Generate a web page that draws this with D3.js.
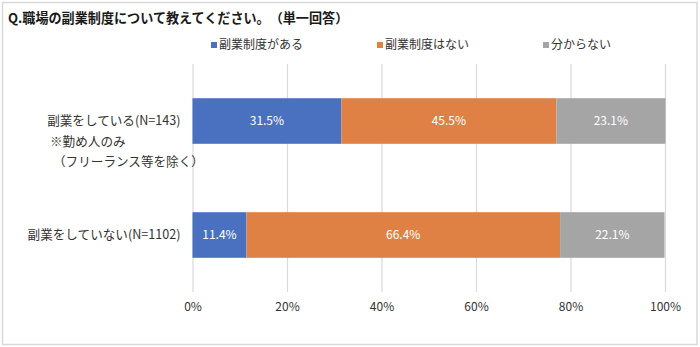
<!DOCTYPE html>
<html lang="ja">
<head>
<meta charset="utf-8">
<script src="https://cdn.jsdelivr.net/npm/d3@7"></script>
<style>
  html, body { margin: 0; padding: 0; background: #fff; }
  svg { display: block; font-family: "Noto Sans CJK JP", "Noto Sans", sans-serif; text-spacing-trim: space-all; }
</style>
</head>
<body>
<svg id="chart" width="700" height="347"></svg>
<script>
// Survey question and answer groups
const title = "Q.職場の副業制度について教えてください。（単一回答）";
const categories = ["副業をしている(N=143)", "副業をしていない(N=1102)"];
const categoryNotes = [["※勤め人のみ", "（フリーランス等を除く）"], []];
const seriesNames = ["副業制度がある", "副業制度はない", "分からない"];
const seriesColors = ["#4a71c0", "#df8144", "#a5a5a5"];
// Shares (%) per group, in series order
const hasSystem = [31.5, 11.4];
const noSystem = [45.5, 66.4];
const dontKnow = [23.1, 22.1];
const tickValues = [0, 20, 40, 60, 80, 100];

const svg = d3.select("#chart");
const W = 700, H = 347;
const margin = { left: 192.5, right: 35, top: 64, bottom: 55 };

// Outer frame
svg.append("rect")
  .attr("x", 2.5).attr("y", 2.5)
  .attr("width", W - 5.5).attr("height", H - 5)
  .attr("fill", "#fff").attr("stroke", "#d9d9d9").attr("stroke-width", 1.5);

svg.append("text")
  .attr("x", 8).attr("y", 23)
  .attr("font-size", 13.1).attr("font-weight", "bold").attr("fill", "#1a1a1a")
  .text(title);

const x = d3.scaleLinear().domain([0, 100]).range([margin.left, W - margin.right]);
const y = d3.scaleBand().domain(categories)
  .range([margin.top, H - margin.bottom]).paddingInner(0.6).paddingOuter(0.3);

// Vertical gridlines with tick labels below
const axis = d3.axisBottom(x).tickValues(tickValues).tickFormat(d => d + "%")
  .tickSize(-(H - margin.bottom - margin.top)).tickPadding(10);
const gAxis = svg.append("g")
  .attr("transform", `translate(0,${H - margin.bottom})`)
  .call(axis);
gAxis.select(".domain").remove();
gAxis.selectAll(".tick line").attr("stroke", "#d9d9d9").attr("stroke-width", 1.2);
gAxis.selectAll(".tick text")
  .attr("font-size", 12).attr("fill", "#333")
  .attr("font-family", "'Noto Sans CJK JP', sans-serif");

// Stack the three series
const rows = categories.map((c, i) => ({
  cat: c, s0: hasSystem[i], s1: noSystem[i], s2: dontKnow[i]
}));
const stack = d3.stack().keys(["s0", "s1", "s2"]);
const layers = stack(rows);

const gLayers = svg.append("g").selectAll("g").data(layers).join("g")
  .attr("fill", (d, i) => seriesColors[i]);

gLayers.selectAll("rect").data(d => d).join("rect")
  .attr("x", d => x(d[0]))
  .attr("width", d => x(d[1]) - x(d[0]))
  .attr("y", d => y(d.data.cat))
  .attr("height", y.bandwidth());

gLayers.selectAll("text").data(d => d).join("text")
  .attr("x", d => (x(d[0]) + x(d[1])) / 2)
  .attr("y", d => y(d.data.cat) + y.bandwidth() / 2)
  .attr("dy", "0.35em")
  .attr("text-anchor", "middle")
  .attr("font-size", 12).attr("fill", "#fff")
  .text(d => (d[1] - d[0]).toFixed(1) + "%");

// Category labels
categories.forEach((c, i) => {
  const cy = y(c) + y.bandwidth() / 2;
  svg.append("text")
    .attr("x", margin.left - 12).attr("y", cy).attr("dy", "0.35em")
    .attr("text-anchor", "end").attr("font-size", 12.6).attr("fill", "#333")
    .text(c);
  categoryNotes[i].forEach((line, j) => {
    svg.append("text")
      .attr("x", 50 + j * 3).attr("y", cy + 20.5 * (j + 1)).attr("dy", "0.35em")
      .attr("font-size", 12.6).attr("fill", "#333")
      .text(line);
  });
});

// Legend
const legendX = [211, 377, 543];
const legend = svg.append("g").selectAll("g").data(seriesNames).join("g")
  .attr("transform", (d, i) => `translate(${legendX[i]},45)`);
legend.append("rect")
  .attr("x", 0).attr("y", -3).attr("width", 6).attr("height", 6)
  .attr("fill", (d, i) => seriesColors[i]);
legend.append("text")
  .attr("x", 8).attr("dy", "0.35em")
  .attr("font-size", 12).attr("fill", "#333")
  .text(d => d);
</script>
</body>
</html>
